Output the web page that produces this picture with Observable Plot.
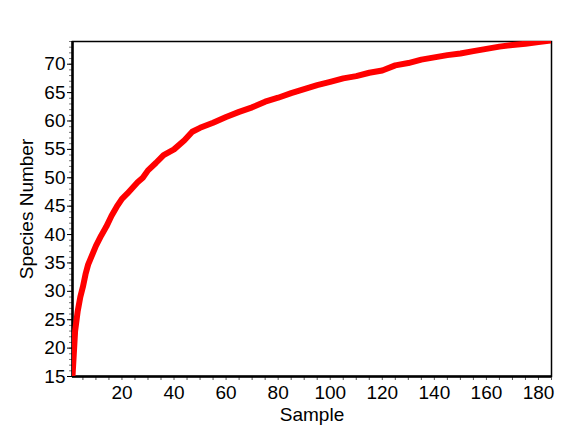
<!DOCTYPE html>
<html>
<head>
<meta charset="utf-8">
<script src="https://cdn.jsdelivr.net/npm/d3@7"></script>
<script src="https://cdn.jsdelivr.net/npm/@observablehq/plot@0.6"></script>
<style>
  body { margin: 0; background: white; }
</style>
</head>
<body>
<div id="chart"></div>
<script>
// species accumulation curve
const samples = [1, 2, 3, 4, 5, 6, 7, 8, 10, 12, 14, 16, 18, 20, 22, 24, 26, 28, 30, 33, 36, 40, 44, 47, 50,
  55, 60, 65, 70, 75, 80, 85, 90, 95, 100, 105, 110, 115, 120, 125, 130, 135, 140, 145, 150, 155, 160, 165,
  170, 175, 180, 185]
const species = [15, 23, 26.5, 29, 30.8, 33, 34.7, 35.8, 38, 39.8, 41.4, 43.3, 44.9, 46.3, 47.2, 48.2, 49.2, 50, 51.3, 52.6, 54, 55, 56.6, 58.1, 58.8,
  59.7, 60.7, 61.6, 62.4, 63.4, 64.1, 64.9, 65.6, 66.3, 66.9, 67.5, 67.9, 68.5, 68.9, 69.8, 70.2, 70.8, 71.2, 71.6, 71.9, 72.3, 72.7, 73.1,
  73.4, 73.6, 73.9, 74.2]

const xTicks = [20, 40, 60, 80, 100, 120, 140, 160, 180]
const yTicks = [15, 20, 25, 30, 35, 40, 45, 50, 55, 60, 65, 70]

const data = samples.map((s, i) => ({sample: s, species: species[i]}))

const chart = Plot.plot({
  width: 566,
  height: 442,
  marginLeft: 72,
  marginRight: 15,
  marginTop: 41,
  marginBottom: 66,
  x: {domain: [1, 185]},
  y: {domain: [15, 74]},
  style: {fontFamily: "'Liberation Sans', Arial, sans-serif", fontSize: "19px", color: "black", background: "white"},
  marks: [
    // minor ticks
    Plot.axisY({ticks: d3.range(15, 75, 1), tickSize: 3, text: null, label: null, stroke: "#777"}),
    Plot.axisX({ticks: d3.range(5, 186, 5), tickSize: 4, text: null, label: null, stroke: "#555"}),
    Plot.axisY({ticks: yTicks, tickSize: 5, tickPadding: 2, fontSize: "19px", label: "Species Number",
      labelAnchor: "center", labelArrow: "none", labelOffset: 53}),
    Plot.axisX({ticks: xTicks, tickSize: 0, tickPadding: 9, fontSize: "19px", label: "Sample",
      labelAnchor: "center", labelArrow: "none", labelOffset: 44}),
    Plot.frame({stroke: "black", strokeWidth: 1.5}),
    Plot.ruleX([1], {stroke: "black", strokeWidth: 2.5}),
    Plot.ruleY([15], {stroke: "black", strokeWidth: 2.5}),
    Plot.line(data, {x: "sample", y: "species", stroke: "#ff0000", strokeWidth: 6, clip: true})
  ]
})

d3.select("#chart").append(() => chart)
</script>
</body>
</html>
